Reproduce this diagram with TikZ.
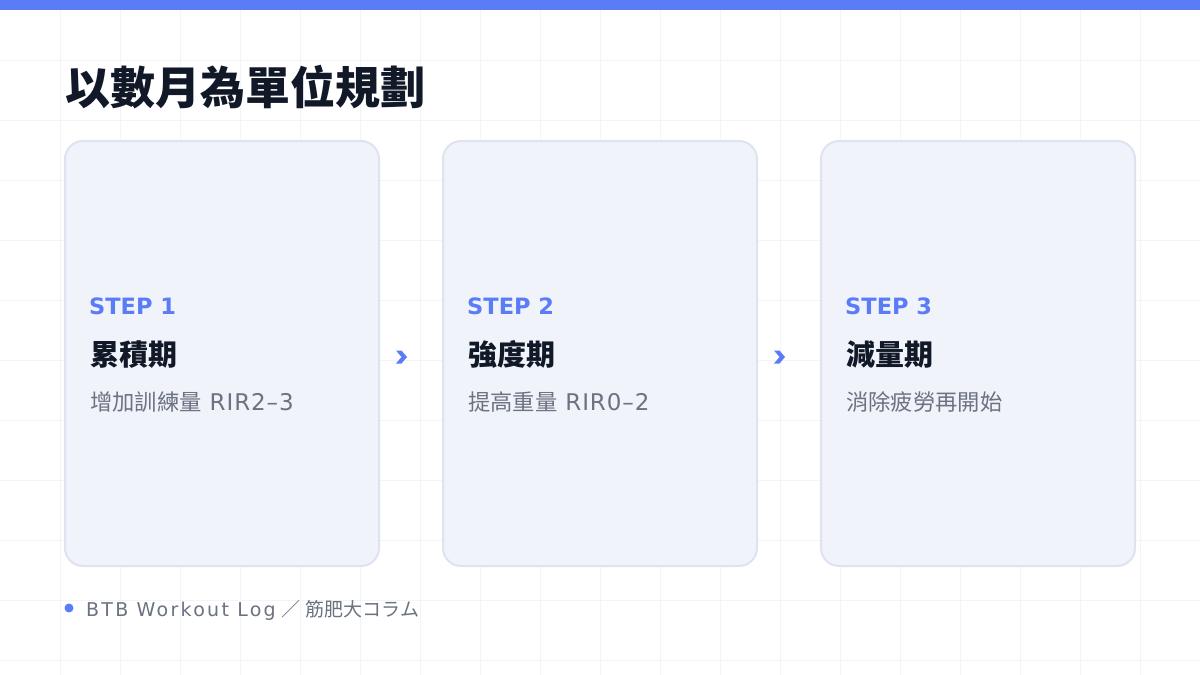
\documentclass[tikz,border=0pt]{standalone}
\usepackage{fontspec}
\setmainfont{Noto Sans CJK TC}
\newfontfamily\titlefont{Noto Sans CJK TC Black}
\newfontfamily\jpfont{Noto Sans CJK JP}
\newfontfamily\latin{DejaVu Sans}[LetterSpace=4]
\newfontfamily\latinfoot{DejaVu Sans}[LetterSpace=12]
\newfontfamily\latinbold{DejaVu Sans Bold}
\definecolor{accent}{HTML}{5B7CF7}
\definecolor{cardfill}{HTML}{F1F3FB}
\definecolor{cardline}{HTML}{DFE3EF}
\definecolor{ink}{HTML}{111827}
\definecolor{muted}{HTML}{6B7280}
\definecolor{gridc}{HTML}{F3F4F7}
\tikzset{
  card/.style={draw=cardline, line width=2pt, fill=cardfill, rounded corners=18pt,
    minimum width=314pt, minimum height=425pt, inner sep=0pt},
  steplabel/.style={anchor=base west, inner sep=0pt, text=accent, font=\latinbold\fontsize{22.5}{22.5}\selectfont},
  phasetitle/.style={anchor=base west, inner sep=0pt, text=ink, font=\titlefont\fontsize{29}{29}\selectfont},
  phasedesc/.style={anchor=base west, inner sep=0pt, text=muted, font=\fontsize{22.3}{22.3}\selectfont},
  chev/.style={fill=accent, draw=none},
  gridline/.style={draw=gridc, line width=1pt}
}
\begin{document}
\begin{tikzpicture}[x=1pt,y=-1pt]
\useasboundingbox (0,0) rectangle (1200,675);
\fill[white] (0,0) rectangle (1200,675);
\foreach \gx in {60,120,...,1140} \draw[gridline] (\gx,0) -- (\gx,675);
\foreach \gy in {60,120,...,660} \draw[gridline] (0,\gy) -- (1200,\gy);
\fill[accent] (0,0) rectangle (1200,10);
\node[anchor=base west, inner sep=0pt, text=ink, font=\titlefont\fontsize{45}{45}\selectfont] (title) at (65,104) {以數月為單位規劃};
% cards
\node[card] (c1) at (222,353.5) {};
\node[card] (c2) at (600,353.5) {};
\node[card] (c3) at (978,353.5) {};
% card 1
\node[steplabel] (s1) at (89,314) {STEP 1};
\node[phasetitle] (t1) at (90,365) {累積期};
\node[phasedesc] (d1) at (90,410) {增加訓練量\hspace{8pt}{\latin\fontsize{23}{23}\selectfont RIR2–3}};
% card 2
\node[steplabel] (s2) at (467,314) {STEP 2};
\node[phasetitle] (t2) at (468,365) {強度期};
\node[phasedesc] (d2) at (468,410) {提高重量\hspace{8pt}{\latin\fontsize{23}{23}\selectfont RIR0–2}};
% card 3
\node[steplabel] (s3) at (845,314) {STEP 3};
\node[phasetitle] (t3) at (846,365) {減量期};
\node[phasedesc] (d3) at (846,410) {消除疲勞再開始};
% chevrons
\coordinate (a1) at (401.5,357);
\coordinate (a2) at (779.5,357);
\foreach \a in {a1,a2}{
  \fill[chev] ([shift={(-5.5,-6.5)}]\a) -- ([shift={(0,-6.5)}]\a) -- ([shift={(5.5,0)}]\a)
    -- ([shift={(0,6.5)}]\a) -- ([shift={(-5.5,6.5)}]\a) -- ([shift={(0,0)}]\a) -- cycle;
}
% footer
\fill[accent] (69,608) circle (4.5);
\node[anchor=base west, inner sep=0pt, text=muted, font=\jpfont\fontsize{19}{19}\selectfont] (foot) at (86,616) {{\latinfoot\fontsize{19}{19}\selectfont BTB Workout Log}\hspace{6pt}／\hspace{5pt}筋肥大コラム};
\end{tikzpicture}
\end{document}
